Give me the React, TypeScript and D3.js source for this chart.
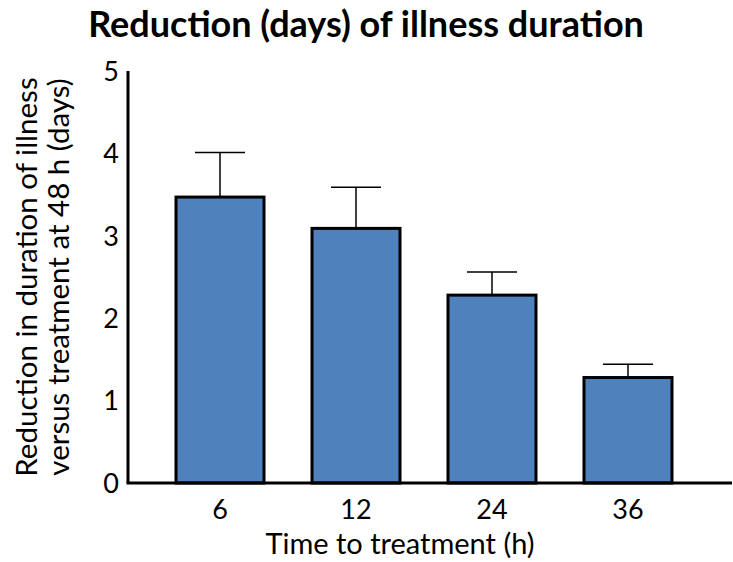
import React, { useEffect, useRef } from "react";
import * as d3 from "d3";

const categories = ["6", "12", "24", "36"];
const values = [3.47, 3.09, 2.28, 1.28];
const errorTops = [4.01, 3.59, 2.56, 1.44];
const yTicks = [0, 1, 2, 3, 4, 5];

const width = 733;
const height = 562;
const font = "Lato, 'Open Sans', sans-serif";

export default function App() {
  const ref = useRef<SVGSVGElement>(null);

  useEffect(() => {
    const svg = d3.select(ref.current);
    svg.selectAll("*").remove();

    const x0 = 128, x1 = 720, axisEnd = 732;
    const yTop = 71, yBottom = 483;

    const xScale = d3.scaleBand().domain(categories).range([x0, x1]).padding(0.353);
    const yScale = d3.scaleLinear().domain([0, 5]).range([yBottom, yTop]);

    const data = categories.map((c, i) => ({ c, v: values[i], e: errorTops[i] }));

    // error bars (drawn first so the bar covers the stem start)
    const err = svg.append("g");
    err.selectAll("line.stem")
      .data(data)
      .join("line")
      .attr("x1", d => xScale(d.c)! + xScale.bandwidth() / 2)
      .attr("x2", d => xScale(d.c)! + xScale.bandwidth() / 2)
      .attr("y1", d => yScale(d.v))
      .attr("y2", d => yScale(d.e))
      .attr("stroke", "#000")
      .attr("stroke-width", 1.5);
    err.selectAll("line.cap")
      .data(data)
      .join("line")
      .attr("x1", d => xScale(d.c)! + xScale.bandwidth() / 2 - 25)
      .attr("x2", d => xScale(d.c)! + xScale.bandwidth() / 2 + 25)
      .attr("y1", d => yScale(d.e))
      .attr("y2", d => yScale(d.e))
      .attr("stroke", "#000")
      .attr("stroke-width", 1.5);

    // bars
    svg.append("g")
      .selectAll("rect")
      .data(data)
      .join("rect")
      .attr("x", d => xScale(d.c)!)
      .attr("y", d => yScale(d.v))
      .attr("width", xScale.bandwidth())
      .attr("height", d => yBottom - yScale(d.v))
      .attr("fill", "#4F81BD")
      .attr("stroke", "#000")
      .attr("stroke-width", 3);

    // axes lines
    svg.append("line")
      .attr("x1", x0).attr("x2", x0)
      .attr("y1", yTop).attr("y2", yBottom)
      .attr("stroke", "#000").attr("stroke-width", 3);
    svg.append("line")
      .attr("x1", x0 - 1.5).attr("x2", axisEnd)
      .attr("y1", yBottom).attr("y2", yBottom)
      .attr("stroke", "#000").attr("stroke-width", 3);

    // y tick labels
    svg.append("g")
      .selectAll("text")
      .data(yTicks)
      .join("text")
      .attr("x", 119)
      .attr("y", d => yScale(d))
      .attr("dy", "0.36em")
      .attr("text-anchor", "end")
      .attr("font-family", font)
      .attr("font-size", 27)
      .text(d => d);

    // x tick labels
    svg.append("g")
      .selectAll("text")
      .data(categories)
      .join("text")
      .attr("x", d => xScale(d)! + xScale.bandwidth() / 2)
      .attr("y", 519)
      .attr("text-anchor", "middle")
      .attr("font-family", font)
      .attr("font-size", 27)
      .text(d => d);

    // x title
    svg.append("text")
      .attr("x", 400)
      .attr("y", 554)
      .attr("text-anchor", "middle")
      .attr("font-family", font)
      .attr("font-size", 29)
      .text("Time to treatment (h)");

    // y title, two lines
    const yt = svg.append("text")
      .attr("transform", "translate(37, 277) rotate(-90)")
      .attr("text-anchor", "middle")
      .attr("font-family", font)
      .attr("font-size", 29.5);
    yt.append("tspan").attr("x", 0).attr("y", 0).text("Reduction in duration of illness");
    yt.append("tspan").attr("x", 0).attr("y", 32).text("versus treatment at 48 h (days)");

    // chart title
    svg.append("text")
      .attr("x", 366)
      .attr("y", 37)
      .attr("text-anchor", "middle")
      .attr("font-family", font)
      .attr("font-weight", "bold")
      .attr("font-size", 36)
      .text("Reduction (days) of illness duration");
  }, []);

  return (
    <svg
      ref={ref}
      width={width}
      height={height}
      style={{ position: "absolute", left: 0, top: 0, display: "block" }}
    />
  );
}
